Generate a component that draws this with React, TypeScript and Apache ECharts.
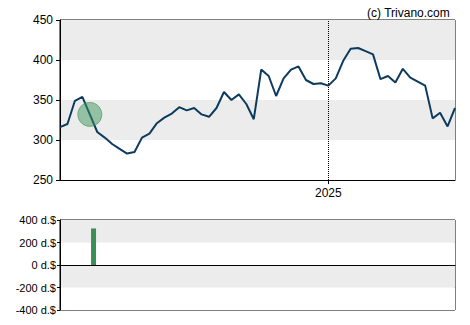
import React, { useEffect, useRef } from "react";
import * as echarts from "echarts";

const dates = [
  "2024-04-24", "2024-05-01", "2024-05-08", "2024-05-15", "2024-05-22", "2024-05-29",
  "2024-06-05", "2024-06-12", "2024-06-19", "2024-06-26", "2024-07-03", "2024-07-10",
  "2024-07-17", "2024-07-24", "2024-07-31", "2024-08-07", "2024-08-14", "2024-08-21",
  "2024-08-28", "2024-09-04", "2024-09-11", "2024-09-18", "2024-09-25", "2024-10-02",
  "2024-10-09", "2024-10-16", "2024-10-23", "2024-10-30", "2024-11-06", "2024-11-13",
  "2024-11-20", "2024-11-27", "2024-12-04", "2024-12-11", "2024-12-18", "2024-12-25",
  "2025-01-01", "2025-01-08", "2025-01-15", "2025-01-22", "2025-01-29", "2025-02-05",
  "2025-02-12", "2025-02-19", "2025-02-26", "2025-03-05", "2025-03-12", "2025-03-19",
  "2025-03-26", "2025-04-02", "2025-04-09", "2025-04-16", "2025-04-23", "2025-04-30",
];

const prices = [
  316, 320, 349, 354, 332, 310, 303, 295, 289, 283,
  285, 303, 308, 321, 328, 333, 341, 337, 340, 332,
  329, 340, 360, 350, 357, 345, 326, 388, 380, 355,
  377, 388, 392, 375, 370, 371, 368, 377, 399, 414,
  415, 411, 407, 376, 380, 372, 389, 378, 373, 368,
  327, 334, 317, 340,
];

const priceTicks = [250, 300, 350, 400, 450];
const flowTicks = [-400, -200, 0, 200, 400];

const yearLabel = "2025";
const yearDate = "2025-01-01";

// signal marker on the price line
const signalDate = "2024-05-22";
// insider flow bar: [position in weeks from first date, value in d.$]
const flowBars: [number, number][] = [[4.5, 325]];

const FONT = "Liberation Sans, Arial, sans-serif";

export default function App() {
  const ref = useRef<HTMLDivElement>(null);
  useEffect(() => {
    if (!ref.current) return;
    const chart = echarts.init(ref.current, undefined, { renderer: "svg" });
    const yearIndex = dates.indexOf(yearDate);
    const signalIndex = dates.indexOf(signalDate);
    chart.setOption({
      animation: false,
      backgroundColor: "#ffffff",
      title: {
        text: "(c) Trivano.com",
        right: 15,
        top: 2,
        textStyle: { fontFamily: FONT, fontSize: 12, fontWeight: "normal", color: "#000" },
      },
      grid: [
        { left: 60, top: 20, width: 395, height: 160, show: true, borderColor: "#000", borderWidth: 1, backgroundColor: "transparent" },
        { left: 60, top: 220, width: 395, height: 90, show: true, borderColor: "#000", borderWidth: 1, backgroundColor: "transparent" },
      ],
      xAxis: [
        {
          type: "category",
          gridIndex: 0,
          data: dates,
          boundaryGap: false,
          axisLine: { show: true, lineStyle: { color: "#000", width: 1 } },
          axisTick: {
            show: true,
            length: 4,
            interval: (i: number) => i === yearIndex,
            lineStyle: { color: "#000" },
          },
          axisLabel: {
            show: true,
            interval: (i: number) => i === yearIndex,
            formatter: () => yearLabel,
            fontFamily: FONT,
            fontSize: 12,
            color: "#000",
            margin: 7,
          },
          splitLine: { show: false },
        },
        {
          type: "value",
          gridIndex: 1,
          min: 0,
          max: dates.length - 1,
          axisLine: { show: true, onZero: true, lineStyle: { color: "#000", width: 1 } },
          axisTick: { show: false },
          axisLabel: { show: false },
          splitLine: { show: false },
        },
      ],
      yAxis: [
        {
          type: "value",
          gridIndex: 0,
          min: priceTicks[0],
          max: priceTicks[priceTicks.length - 1],
          interval: 50,
          axisLine: { show: true, lineStyle: { color: "#000", width: 1 } },
          axisTick: { show: true, length: 4, lineStyle: { color: "#000" } },
          axisLabel: { fontFamily: FONT, fontSize: 12, color: "#000", margin: 7 },
          splitLine: { show: false },
          splitArea: { show: true, areaStyle: { color: ["#ffffff", "#ececec"] } },
        },
        {
          type: "value",
          gridIndex: 1,
          min: flowTicks[0],
          max: flowTicks[flowTicks.length - 1],
          interval: 200,
          axisLine: { show: true, lineStyle: { color: "#000", width: 1 } },
          axisTick: { show: true, length: 3, lineStyle: { color: "#000" } },
          axisLabel: {
            fontFamily: FONT,
            fontSize: 11,
            color: "#000",
            margin: 4,
            formatter: (v: number) => `${v} d.$`,
          },
          splitLine: { show: false },
          splitArea: { show: true, areaStyle: { color: ["#ffffff", "#ececec"] } },
        },
      ],
      series: [
        {
          type: "line",
          xAxisIndex: 0,
          yAxisIndex: 0,
          data: prices,
          symbol: "none",
          lineStyle: { color: "#0d3b5e", width: 2 },
          markLine: {
            silent: true,
            symbol: "none",
            label: { show: false },
            lineStyle: { color: "#000", type: "dotted", width: 1 },
            data: [{ xAxis: yearIndex }],
          },
          markPoint: {
            silent: true,
            symbol: "circle",
            symbolSize: 24,
            label: { show: false },
            itemStyle: {
              color: "rgba(60,150,90,0.5)",
              borderColor: "rgba(60,140,85,0.6)",
              borderWidth: 1,
            },
            data: [{ coord: [signalIndex, prices[signalIndex]] }],
          },
        },
        {
          type: "bar",
          xAxisIndex: 1,
          yAxisIndex: 1,
          data: flowBars,
          barWidth: 5,
          itemStyle: { color: "#3a8f58" },
        },
      ],
    });
    return () => chart.dispose();
  }, []);
  return (
    <div
      ref={ref}
      style={{ position: "fixed", left: 0, top: 0, width: 470, height: 325 }}
    />
  );
}
